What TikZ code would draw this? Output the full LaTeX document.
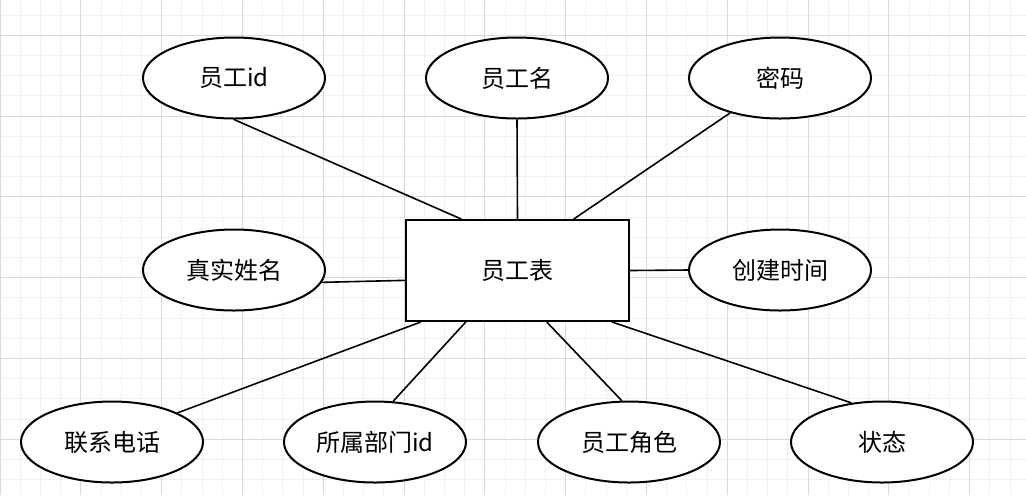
\documentclass[tikz,border=0pt]{standalone}
\usepackage{fontspec}
\setmainfont{Noto Sans CJK SC}
\usetikzlibrary{shapes.geometric,calc}
\definecolor{gridminor}{HTML}{F0F0F0}
\definecolor{gridmajor}{HTML}{D9D9D9}

\begin{document}
\begin{tikzpicture}[x=0.5pt,y=-0.5pt,
  attr/.style={draw,ellipse,line width=1pt,minimum width=91pt,minimum height=40.5pt,inner sep=0pt,font=\fontsize{12}{14}\selectfont},
  entity/.style={draw,rectangle,line width=1pt,minimum width=111.5pt,minimum height=50.5pt,inner sep=0pt,font=\fontsize{12}{14}\selectfont},
  link/.style={line width=0.8pt}]
\useasboundingbox (0,0) rectangle (1026,495);
% grid
\foreach \i in {0,...,50} \draw[gridminor,line width=0.5pt] (\i*20.2,0) -- (\i*20.2,495);
\foreach \k in {0,...,24} \draw[gridminor,line width=0.5pt] (0,15+\k*20.2) -- (1026,15+\k*20.2);
\foreach \i in {0,...,12} \draw[gridmajor,line width=0.5pt] (\i*80.8,0) -- (\i*80.8,495);
\foreach \k in {0,...,5} \draw[gridmajor,line width=0.5pt] (0,35.2+\k*80.8) -- (1026,35.2+\k*80.8);

% nodes
\node[entity,fill=white] (emp) at (517.5,270.5) {员工表};

\node[attr,fill=white] (eid)    at (234,78)  {员工id};
\node[attr,fill=white] (ename)  at (517,78)  {员工名};
\node[attr,fill=white] (pw)     at (780,78)  {密码};
\node[attr,fill=white] (rname)  at (234,270) {真实姓名};
\node[attr,fill=white] (ctime)  at (780,270) {创建时间};
\node[attr,fill=white] (phone)  at (112,442) {联系电话};
\node[attr,fill=white] (dept)   at (375,442) {所属部门id};
\node[attr,fill=white] (role)   at (629,442) {员工角色};
\node[attr,fill=white] (state)  at (882,442) {状态};

% lines
\draw[link] (eid.south) -- ($(emp.north west)!0.25!(emp.north east)$);
\draw[link] (ename.south) -- (emp.north);
\draw[link] (pw.215) -- ($(emp.north west)!0.75!(emp.north east)$);
\draw[link] (rname.-8) -- (emp.185);
\draw[link] (emp.east) -- (ctime.west);
\draw[link] (phone.24) -- ($(emp.south west)!0.07!(emp.south east)$);
\draw[link] (dept.66) -- ($(emp.south west)!0.27!(emp.south east)$);
\draw[link] (role.100) -- ($(emp.south west)!0.63!(emp.south east)$);
\draw[link] (state.128) -- ($(emp.south west)!0.92!(emp.south east)$);
\end{tikzpicture}
\end{document}
